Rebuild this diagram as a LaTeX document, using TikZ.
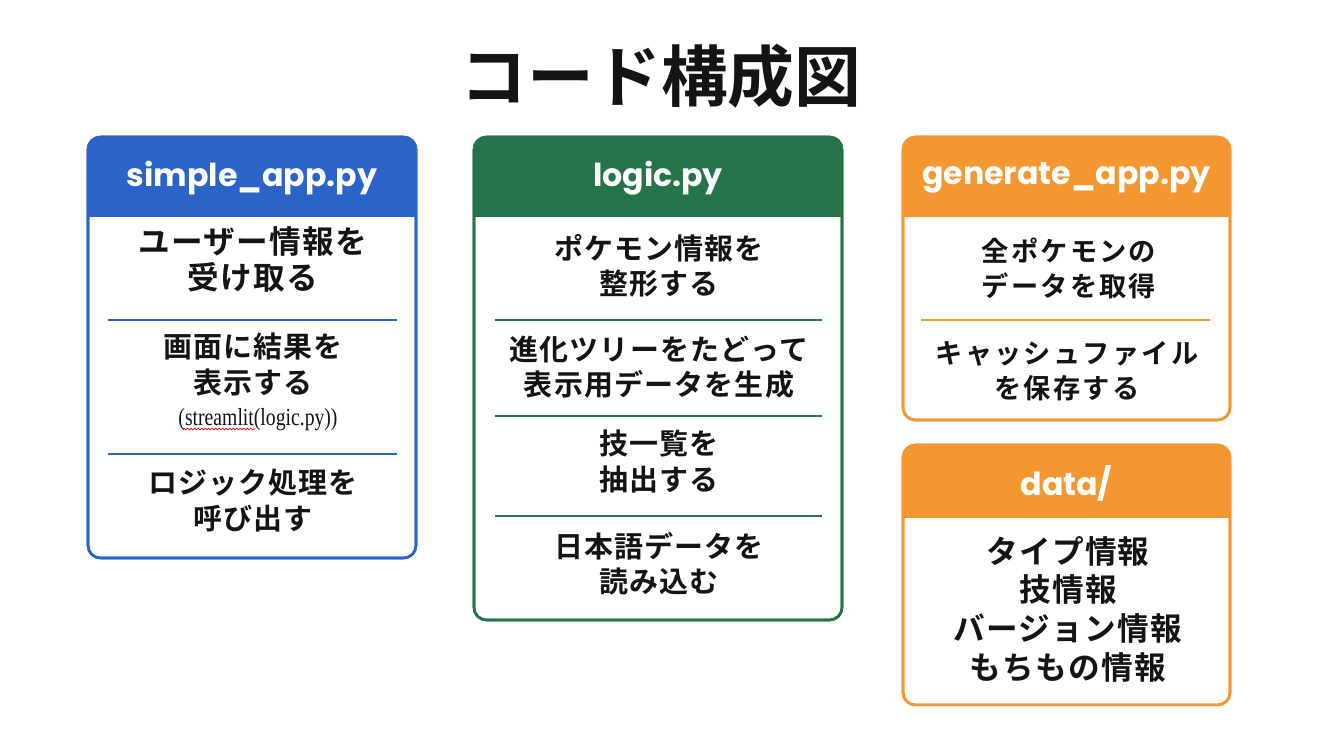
\documentclass[tikz,border=0pt]{standalone}
\usepackage{fontspec}
\setmainfont{Noto Sans CJK JP}[BoldFont={Noto Sans CJK JP Bold}]
\newfontfamily\widejp{Noto Sans CJK JP Bold}[LetterSpace=8]
\newfontfamily\loosejp{Noto Sans CJK JP Bold}[LetterSpace=4]
\newfontfamily\headfont{Poppins}
\newfontfamily\codefont{Liberation Serif}[FakeStretch=0.8]
\usetikzlibrary{positioning, decorations.pathmorphing}
\definecolor{appblue}{RGB}{44,99,201}
\definecolor{logicgreen}{RGB}{38,115,74}
\definecolor{genorange}{RGB}{244,151,48}
\definecolor{ink}{RGB}{20,20,20}
\tikzset{
  filebox/.style={rectangle, rounded corners=7pt, draw=#1, line width=1.5pt,
    inner sep=0pt, outer sep=0pt},
  headtext/.style={font=\headfont\bfseries\fontsize{18}{20}\selectfont, text=white},
  bodytext/.style={align=center, text=ink, font=\loosejp\fontsize{16.5}{20}\selectfont},
  widetext/.style={align=center, text=ink, font=\widejp\fontsize{15.5}{20}\selectfont},
  divider/.style={draw=#1, line width=1.2pt}
}

\begin{document}
\begin{tikzpicture}[x=0.02cm, y=-0.02cm]
  \useasboundingbox[fill=white] (0,0) rectangle (1319,745);

  \node[font=\bfseries\fontsize{38}{44}\selectfont, text=ink] (title) at (661,76) {コード構成図};

  % simple_app.py
  \node[filebox=appblue, fill=white, minimum width=6.56cm, minimum height=8.42cm] (simple) at (252,347.5) {};
  \begin{scope}
    \clip[rounded corners=7pt] (simple.north west) rectangle (simple.south east);
    \fill[appblue] (simple.north west) rectangle (416,217);
  \end{scope}
  \draw[appblue, line width=1.5pt, rounded corners=7pt] (simple.north west) rectangle (simple.south east);
  \node[headtext] (simplehead) at (252,178) {simple\_app.py};
  \node[bodytext, font=\loosejp\fontsize{18}{20.5}\selectfont] (userinfo) at (253,259) {ユーザー情報を\\受け取る};
  \node[bodytext] (showresult) at (253,364.5) {画面に結果を\\表示する};
  \node[text=ink, font=\codefont\fontsize{14}{16}\selectfont] (streamlit) at (258,420) {(streamlit(logic.py))};
  \draw[red, line width=0.4pt, decorate, decoration={snake, amplitude=0.5pt, segment length=2pt}]
    (183,429) -- (255,429);
  \node[bodytext] (calllogic) at (253,500.5) {ロジック処理を\\呼び出す};
  \draw[divider=appblue] (108,320) -- (397,320);
  \draw[divider=appblue] (108,454) -- (397,454);

  % logic.py
  \node[filebox=logicgreen, fill=white, minimum width=7.36cm, minimum height=9.66cm] (logic) at (658,378.5) {};
  \begin{scope}
    \clip[rounded corners=7pt] (logic.north west) rectangle (logic.south east);
    \fill[logicgreen] (logic.north west) rectangle (842,217);
  \end{scope}
  \draw[logicgreen, line width=1.5pt, rounded corners=7pt] (logic.north west) rectangle (logic.south east);
  \node[headtext] (logichead) at (658,178) {logic.py};
  \node[bodytext] (format) at (659,265.5) {ポケモン情報を\\整形する};
  \node[bodytext] (evotree) at (659,367.5) {進化ツリーをたどって\\表示用データを生成};
  \node[bodytext] (moves) at (659,461.5) {技一覧を\\抽出する};
  \node[bodytext] (jpdata) at (659,563.5) {日本語データを\\読み込む};
  \draw[divider=logicgreen] (495,320) -- (822,320);
  \draw[divider=logicgreen] (495,416) -- (822,416);
  \draw[divider=logicgreen] (495,516) -- (822,516);

  % generate_app.py
  \node[filebox=genorange, fill=white, minimum width=6.54cm, minimum height=5.66cm] (gen) at (1066.5,278.5) {};
  \begin{scope}
    \clip[rounded corners=7pt] (gen.north west) rectangle (gen.south east);
    \fill[genorange] (gen.north west) rectangle (1230,217);
  \end{scope}
  \draw[genorange, line width=1.5pt, rounded corners=7pt] (gen.north west) rectangle (gen.south east);
  \node[headtext] (genhead) at (1066.5,178) {generate\_app.py};
  \node[widetext] (fetch) at (1069,268) {全ポケモンの\\データを取得};
  \node[widetext] (cache) at (1067,371.5) {キャッシュファイル\\を保存する};
  \draw[divider=genorange] (921,320) -- (1210,320);

  % data/
  \node[filebox=genorange, fill=white, minimum width=6.54cm, minimum height=5.2cm, below=0.5cm of gen] (data) {};
  \begin{scope}
    \clip[rounded corners=7pt] (data.north west) rectangle (data.south east);
    \fill[genorange] (data.north west) rectangle (1230,518);
  \end{scope}
  \draw[genorange, line width=1.5pt, rounded corners=7pt] (data.north west) rectangle (data.south east);
  \node[headtext] (datahead) at (1066.5,483) {data/};
  \node[bodytext, font=\loosejp\fontsize{18}{22}\selectfont] (datalist) at (1068,609) {タイプ情報\\技情報\\バージョン情報\\もちもの情報};
\end{tikzpicture}
\end{document}
